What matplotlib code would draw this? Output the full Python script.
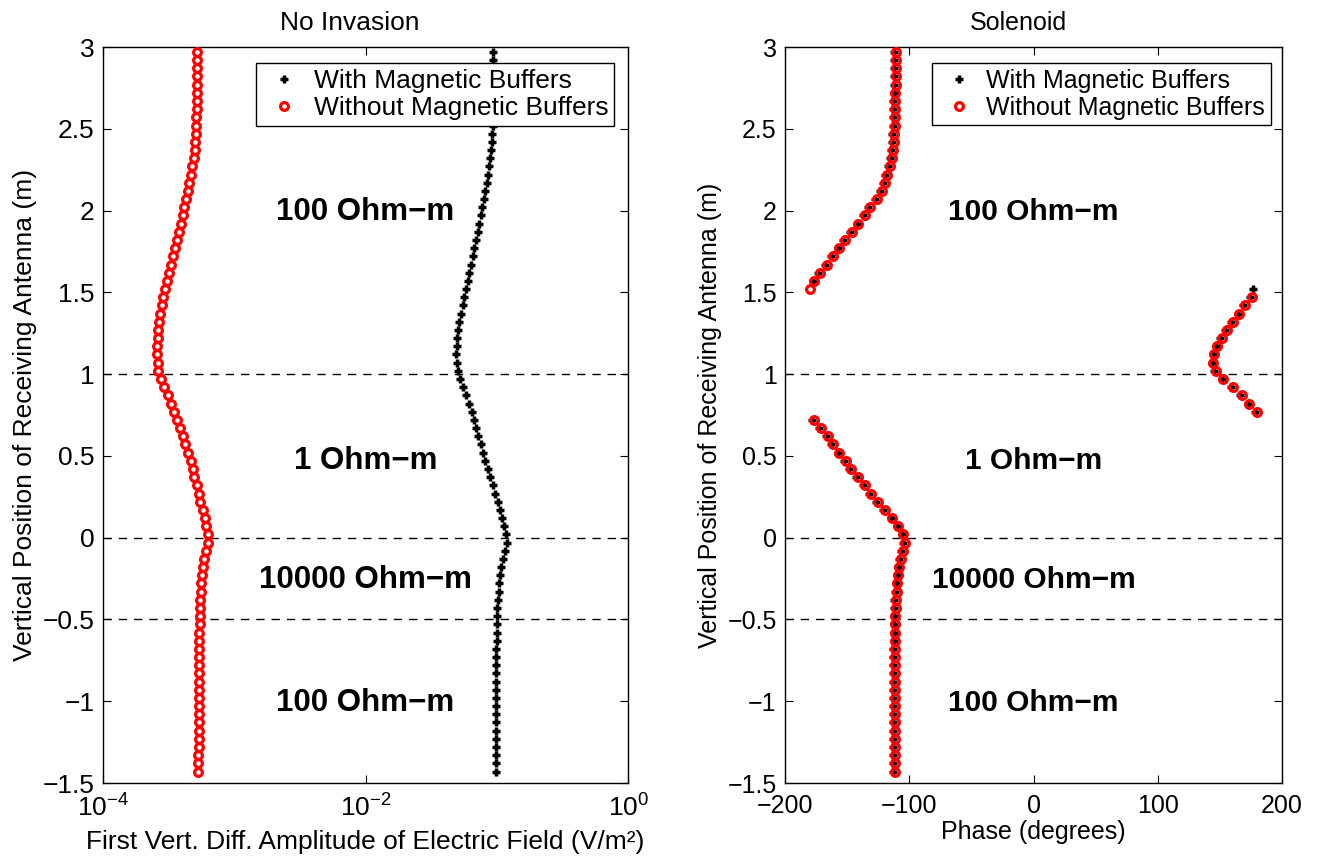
import numpy as np
import matplotlib
matplotlib.use("Agg")
import matplotlib.pyplot as plt

plt.rcParams['font.family'] = ['Liberation Sans', 'DejaVu Sans']
plt.rcParams['mathtext.fontset'] = 'custom'
plt.rcParams['mathtext.rm'] = 'Liberation Sans'
plt.rcParams['mathtext.it'] = 'Liberation Sans:italic'

# receiver positions (m), bottom to top
depth = np.round(np.arange(-1.43, 2.975, 0.05), 2)

# first vertical difference amplitude (V/m^2)
black_amp = [0.0986, 0.0986, 0.0986, 0.0986, 0.0986, 0.0986, 0.0986, 0.0986, 0.0986,
             0.0992, 0.0992, 0.0992, 0.0992, 0.0992, 0.0992, 0.0992, 0.0997, 0.0997, 0.0997,
             0.1003, 0.1009, 0.1021, 0.1033, 0.1045, 0.1064, 0.1082, 0.1114, 0.1148,
             0.1195, 0.1174, 0.1141, 0.1101, 0.1057, 0.1015, 0.0974, 0.0930, 0.0893,
             0.0856, 0.0818, 0.0785, 0.0753, 0.0724, 0.0695, 0.0667, 0.0644,
             0.0611, 0.0584, 0.0556, 0.0525, 0.0504, 0.0495, 0.0492, 0.0495, 0.0498,
             0.0507, 0.0519, 0.0534, 0.0551, 0.0566, 0.0584, 0.0600, 0.0618, 0.0636,
             0.0656, 0.0675, 0.0695, 0.0715, 0.0737, 0.0758, 0.0776, 0.0799, 0.0818,
             0.0835, 0.0856, 0.0877, 0.0893, 0.0903, 0.0914, 0.0925, 0.0930, 0.0935,
             0.0941, 0.0941, 0.0941, 0.0941, 0.0935, 0.0935, 0.0930, 0.0930]
red_amp = np.array([5.31, 5.31, 5.31, 5.34, 5.34, 5.34, 5.34, 5.34, 5.34, 5.37, 5.37, 5.37,
                    5.37, 5.37, 5.37, 5.41, 5.41, 5.41, 5.44, 5.47, 5.47, 5.50, 5.53, 5.57,
                    5.63, 5.73, 5.90, 6.07, 6.29, 6.25, 6.11, 5.93, 5.73, 5.50, 5.34, 5.16,
                    4.95, 4.81, 4.64, 4.43, 4.23, 4.04, 3.85, 3.63, 3.47, 3.31, 3.12, 2.91,
                    2.75, 2.64, 2.60, 2.59, 2.59, 2.60, 2.64, 2.67, 2.71, 2.79, 2.88, 2.96,
                    3.05, 3.16, 3.27, 3.39, 3.51, 3.63, 3.76, 3.90, 4.04, 4.15, 4.28, 4.40,
                    4.54, 4.67, 4.78, 4.89, 4.98, 5.04, 5.07, 5.10, 5.13, 5.16, 5.16, 5.19,
                    5.19, 5.22, 5.22, 5.22, 5.22]) * 1e-4

# phase (degrees), wrapped to [-180, 180]
red_phase = [-111.4, -111.4, -111.4, -111.4, -111.4, -111.3, -111.3, -111.3, -111.3, -111.3,
             -111.3, -111.2, -111.2, -111.2, -111.2, -111.2, -111.1, -111.1, -111.1,
             -111.1, -110.8, -110.5, -110.0, -109.5, -108.7, -107.9, -106.8, -105.2, -103.3,
             -104.7, -108.7, -113.5, -119.4, -125.3, -130.9, -136.0, -141.4, -146.7, -150.8,
             -156.2, -161.5, -165.8, -171.2, -176.5,
             179.6, 173.7, 167.6, 160.3, 152.8, 146.9, 144.8, 145.6, 148.0, 151.5, 155.5,
             160.3, 165.7, 170.2, 175.6,
             -179.7, -176.3, -171.7, -166.3, -161.5, -156.2, -151.6, -146.2, -140.9, -136.0,
             -131.5, -126.1, -122.0, -119.4, -118.0, -115.4, -114.0, -113.0, -112.4, -112.0,
             -111.7, -111.5, -111.3, -111.2, -111.1, -111.0, -111.0, -110.9, -110.9, -110.9]
black_phase = [-112.9, -112.9, -112.9, -112.9, -112.9, -112.8, -112.8, -112.8, -112.8, -112.8,
               -112.8, -112.7, -112.7, -112.7, -112.7, -112.7, -112.6, -112.6, -112.6,
               -112.6, -112.3, -112.0, -111.5, -111.0, -110.2, -109.4, -108.3, -106.7, -104.8,
               -106.2, -110.2, -115.0, -120.9, -126.8, -132.4, -137.5, -142.9, -148.2, -152.3,
               -157.7, -163.0, -167.3, -172.7, -178.0,
               178.1, 172.2, 166.1, 158.8, 151.3, 145.4, 143.3, 144.1, 146.5, 150.0, 154.0,
               158.8, 164.2, 168.7, 174.1,
               176.9, -177.8, -173.2, -167.8, -163.0, -157.7, -153.1, -147.7, -142.4, -137.5,
               -133.0, -127.6, -123.5, -120.9, -119.5, -116.9, -115.5, -114.5, -113.9, -113.5,
               -113.2, -113.0, -112.8, -112.7, -112.6, -112.5, -112.5, -112.4, -112.4, -112.4]

boundaries = [1.0, 0.0, -0.5]
layer_labels = ['100 Ohm\u2212m', '1 Ohm\u2212m', '10000 Ohm\u2212m', '100 Ohm\u2212m']
layer_y = [1.99, 0.47, -0.26, -1.01]
yticks = [-1.5, -1, -0.5, 0, 0.5, 1, 1.5, 2, 2.5, 3]
ytick_labels = ['\u22121.5', '\u22121', '\u22120.5', '0', '0.5', '1', '1.5', '2', '2.5', '3']
phase_ticks = [-200, -100, 0, 100, 200]
phase_labels = ['\u2212200', '\u2212100', '0', '100', '200']
series_names = ['With Magnetic Buffers', 'Without Magnetic Buffers']

fig = plt.figure(figsize=(13.33, 8.58), dpi=100)
ax1 = fig.add_axes([0.0773, 0.0874, 0.3939, 0.8578])
ax2 = fig.add_axes([0.5889, 0.0874, 0.3729, 0.8578])


def style_axis(ax, fs):
    ax.set_ylim(-1.5, 3)
    ax.set_yticks(yticks)
    ax.set_yticklabels(ytick_labels)
    ax.tick_params(direction='in', length=6, width=0.8, top=True, right=True,
                   labelsize=fs)
    ax.tick_params(axis='y', pad=6)
    ax.tick_params(axis='x', pad=8)
    ax.minorticks_off()
    for s in ax.spines.values():
        s.set_linewidth(1.0)
    for b in boundaries:
        ax.axhline(b, color='black', linestyle=(0, (6, 5)), linewidth=1.0, zorder=1)
    ax.set_ylabel('Vertical Position of Receiving Antenna (m)', fontsize=fs, labelpad=4)


def add_legend(ax, fs, anchor):
    leg = ax.legend(loc='upper right', bbox_to_anchor=anchor, borderaxespad=0,
                    fontsize=fs, frameon=True, fancybox=False, edgecolor='black',
                    framealpha=1, handlelength=1.7, handletextpad=0.25, borderpad=0.22,
                    labelspacing=0.12, numpoints=1)
    leg.get_frame().set_linewidth(1.0)


# left panel: amplitude
fs1 = 19
ax1.set_xscale('log')
ax1.set_xlim(1e-4, 1)
ax1.set_xticks([1e-4, 1e-2, 1])
ax1.plot(black_amp, depth, linestyle='none', marker='+', color='black', ms=6, mew=2.5,
         label=series_names[0], zorder=3)
ax1.plot(red_amp, depth, linestyle='none', marker='o', mfc='none', mec='red', ms=5.6, mew=2.3,
         label=series_names[1], zorder=4)
style_axis(ax1, fs1)
ax1.xaxis.set_minor_locator(matplotlib.ticker.NullLocator())
ax1.set_title('No Invasion', fontsize=fs1, pad=12, x=0.47)
ax1.set_xlabel('First Vert. Diff. Amplitude of Electric Field (V/m\u00b2)', fontsize=fs1, labelpad=6)
for t, yv in zip(layer_labels, layer_y):
    ax1.text(1e-2, yv, t, ha='center', va='center', fontsize=22.5, fontweight='bold')
add_legend(ax1, fs1, (0.973, 0.978))

# right panel: phase
fs2 = 18
ax2.set_xlim(-200, 200)
ax2.set_xticks(phase_ticks)
ax2.set_xticklabels(phase_labels)
ax2.plot(black_phase, depth, linestyle='none', marker='+', color='black', ms=6, mew=2.5,
         label=series_names[0], zorder=3)
ax2.plot(red_phase, depth, linestyle='none', marker='o', mfc='none', mec='red', ms=5.6, mew=2.3,
         label=series_names[1], zorder=4)
style_axis(ax2, fs2)
ax2.set_title('Solenoid', fontsize=fs2, pad=12, x=0.47)
ax2.set_xlabel('Phase (degrees)', fontsize=fs2, labelpad=1)
for t, yv in zip(layer_labels, layer_y):
    ax2.text(0, yv, t, ha='center', va='center', fontsize=21.5, fontweight='bold')
add_legend(ax2, fs2, (0.977, 0.978))

fig.savefig('out.png', dpi=100)
